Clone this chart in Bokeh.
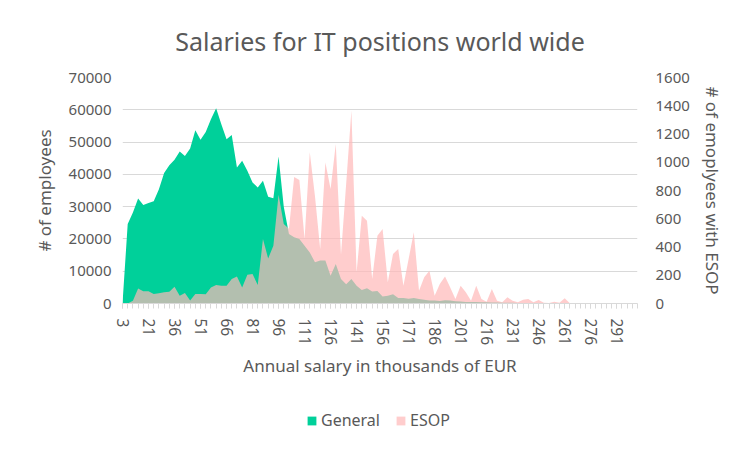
from bokeh.plotting import figure
from bokeh.layouts import column
from bokeh.models import (Range1d, LinearAxis, FixedTicker, Title, Legend, LegendItem)
from bokeh.embed import file_html
from bokeh.resources import INLINE

# ---- data -------------------------------------------------------------
salary_k = [3, 6, 9, 12, 18] + list(range(21, 304, 3))   # 100 categories

general = [0, 24600, 28200, 32500, 30500, 31100, 31700, 35400, 40400, 42800,
           44500, 47100, 45700, 48000, 53700, 50700, 53100, 57100, 60500, 55500,
           50900, 52200, 42100, 44200, 41100, 37500, 35900, 38000, 33100, 32600,
           45500, 30000, 21500, 20500, 20000, 17900, 15800, 12800, 13300, 13300,
           8600, 12200, 7600, 6000, 7600, 5500, 4200, 4700, 3700, 3900,
           2200, 2400, 2900, 1700, 1700, 1500, 1700, 1400, 1200, 900,
           900, 800, 1000, 900, 700, 600, 500, 500, 450, 400,
           350, 300, 300, 250, 200, 200, 150, 150, 120, 100,
           100, 80, 60, 60, 50, 40, 40, 30, 30, 20,
           20, 20, 10, 10, 10, 10, 5, 5, 5, 5]

esop = [0, 0, 20, 107, 86, 86, 67, 72, 79, 84,
        119, 55, 74, 22, 67, 67, 65, 114, 131, 126,
        126, 173, 192, 114, 204, 208, 131, 456, 319, 409,
        770, 562, 530, 895, 875, 456, 1070, 760, 386, 999,
        810, 1129, 345, 850, 1364, 221, 621, 586, 173, 480,
        527, 150, 350, 386, 126, 315, 504, 91, 185, 232,
        55, 138, 192, 114, 32, 126, 79, 20, 126, 32,
        13, 103, 20, 8, 44, 20, 8, 27, 32, 8,
        25, 5, 3, 13, 5, 37, 2, 1, 2, 1,
        1, 0, 1, 0, 0, 1, 0, 0, 0, 0]

left_ticks = [0, 10000, 20000, 30000, 40000, 50000, 60000, 70000]
right_ticks = [0, 200, 400, 600, 800, 1000, 1200, 1400, 1600]
label_every = 5

title_text = "Salaries for IT positions world wide"
x_title = "Annual salary in thousands of EUR"
y_title = "# of employees"
y2_title = "# of emoplyees with ESOP"
series_names = ["General", "ESOP"]

# ---- style ------------------------------------------------------------
FONT = "Noto Sans"
TXT = "#595959"
GRID = "#D9D9D9"
GREEN = "#00D09A"
PINK = "#FFB8B8"
PINK_ALPHA = 0.7

idx = list(range(len(salary_k)))

p = figure(width=736, height=395, output_backend="svg", toolbar_location=None,
           x_range=Range1d(0, len(salary_k) - 1), y_range=Range1d(0, 70000),
           min_border_left=122, min_border_right=99, min_border_top=77,
           min_border_bottom=92, outline_line_color=None, x_axis_location=None,
           y_axis_location=None)
p.extra_y_ranges = {"esop": Range1d(0, 1600)}

p.varea(x=idx, y1=0, y2=general, fill_color=GREEN)
p.varea(x=idx, y1=0, y2=esop, fill_color=PINK, fill_alpha=PINK_ALPHA,
        y_range_name="esop")

# x axis
xa = LinearAxis(ticker=FixedTicker(ticks=idx[::label_every], minor_ticks=idx))
xa.major_label_overrides = {i: str(salary_k[i]) for i in idx[::label_every]}
xa.major_label_orientation = "vertical"
xa.axis_line_color = GRID
xa.major_tick_line_color = GRID
xa.minor_tick_line_color = GRID
xa.major_tick_in = 0
xa.major_tick_out = 5
xa.minor_tick_in = 0
xa.minor_tick_out = 5
xa.major_label_standoff = 10
xa.major_label_text_font = FONT
xa.major_label_text_font_size = "15.5px"
xa.major_label_text_color = TXT
xa.axis_label = x_title
xa.axis_label_text_font = FONT
xa.axis_label_text_font_size = "17px"
xa.axis_label_text_font_style = "normal"
xa.axis_label_text_color = TXT
xa.axis_label_standoff = 6
p.add_layout(xa, "below")

# left axis
ya = LinearAxis(ticker=FixedTicker(ticks=left_ticks))
ya.axis_line_color = None
ya.major_tick_line_color = None
ya.minor_tick_line_color = None
ya.major_tick_out = 0
ya.minor_tick_out = 0
ya.major_label_standoff = 11
ya.major_label_text_font = FONT
ya.major_label_text_font_size = "15px"
ya.major_label_text_color = TXT
ya.axis_label = y_title
ya.axis_label_text_font = FONT
ya.axis_label_text_font_size = "17px"
ya.axis_label_text_font_style = "normal"
ya.axis_label_text_color = TXT
ya.axis_label_standoff = 10
p.add_layout(ya, "left")

# right axis
ya2 = LinearAxis(y_range_name="esop", ticker=FixedTicker(ticks=right_ticks))
ya2.axis_line_color = None
ya2.major_tick_line_color = None
ya2.minor_tick_line_color = None
ya2.major_tick_out = 0
ya2.minor_tick_out = 0
ya2.major_label_standoff = 18
ya2.major_label_text_font = FONT
ya2.major_label_text_font_size = "15px"
ya2.major_label_text_color = TXT
ya2.axis_label = y2_title
ya2.axis_label_text_font = FONT
ya2.axis_label_text_font_size = "17px"
ya2.axis_label_text_font_style = "normal"
ya2.axis_label_text_color = TXT
ya2.axis_label_standoff = 8
p.add_layout(ya2, "right")

p.xgrid.visible = False
p.ygrid.ticker = FixedTicker(ticks=left_ticks)
p.ygrid.grid_line_color = GRID

p.add_layout(Title(text=title_text, align="center", text_font=FONT,
                   text_font_size="25px", text_font_style="normal",
                   text_color=TXT, standoff=40), "above")

# legend strip below the chart: hidden copies of the two series supply the swatches
lg = figure(width=736, height=41, output_backend="svg", toolbar_location=None,
            min_border=0, outline_line_color=None, x_axis_location=None,
            y_axis_location=None, x_range=Range1d(0, len(salary_k) - 1),
            y_range=Range1d(0, 70000))
lg.extra_y_ranges = {"esop": Range1d(0, 1600)}
lg.xgrid.visible = False
lg.ygrid.visible = False
sw_gen = lg.varea(x=idx, y1=0, y2=general, fill_color=GREEN, visible=False)
sw_esop = lg.varea(x=idx, y1=0, y2=esop, fill_color=PINK, fill_alpha=PINK_ALPHA,
                   y_range_name="esop", visible=False)
legend = Legend(items=[LegendItem(label=series_names[0], renderers=[sw_gen]),
                       LegendItem(label=series_names[1], renderers=[sw_esop])],
                orientation="horizontal", location=(184, 5),
                glyph_width=11, glyph_height=11, label_standoff=4, spacing=15,
                padding=0, margin=0, border_line_alpha=0, background_fill_alpha=0,
                inactive_fill_alpha=0,
                label_text_font=FONT, label_text_font_size="16px",
                label_text_color=TXT, label_height=16)
lg.add_layout(legend, "center")

layout = column(p, lg, spacing=0)
open("out.html", "w").write(file_html(layout, INLINE))
